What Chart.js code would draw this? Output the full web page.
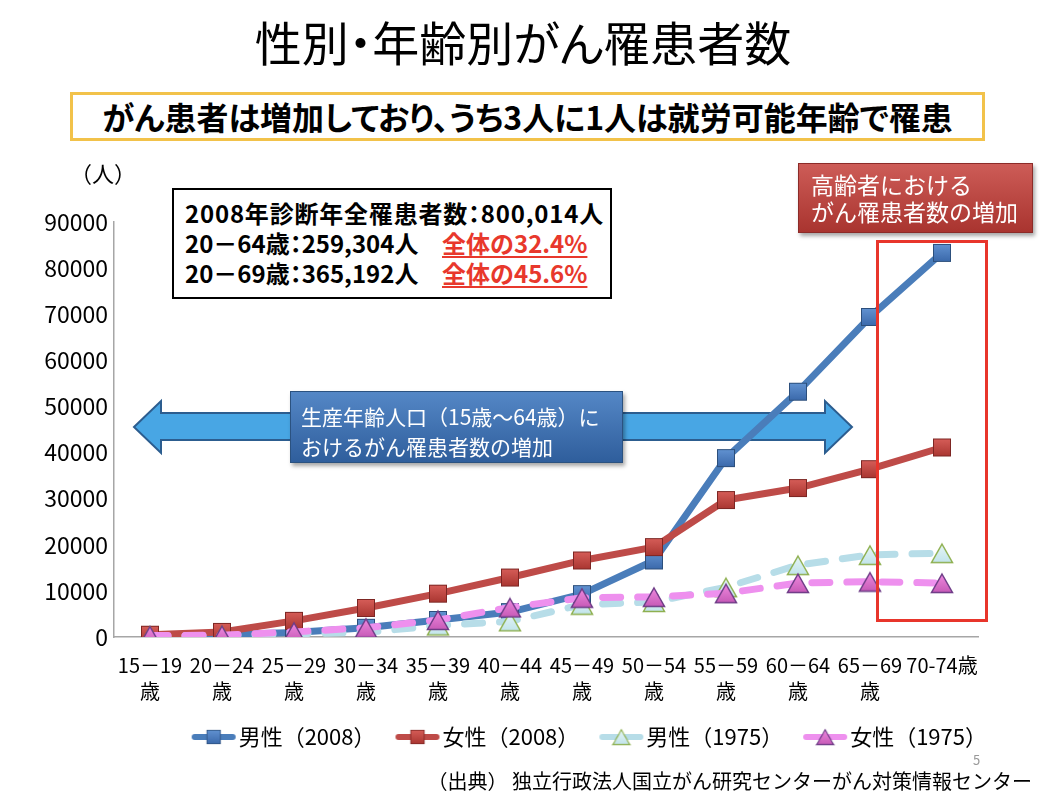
<!DOCTYPE html>
<html lang="ja">
<head>
<meta charset="utf-8">
<title>性別・年齢別がん罹患者数</title>
<script src="https://cdn.jsdelivr.net/npm/chart.js@4.4.1/dist/chart.umd.min.js"></script>
<style>
  html, body { margin: 0; padding: 0; background: #fff; }
  body { font-family: "Noto Sans CJK JP", "Noto Sans", sans-serif; color: #000; }
  #page { position: relative; width: 1046px; height: 800px; overflow: hidden; }
  #arrow { position: absolute; left: 0; top: 0; z-index: 0; }
  #chartBox { position: absolute; left: 0; top: 0; width: 1046px; height: 800px; z-index: 1; }
  .abs { position: absolute; z-index: 2; box-sizing: border-box; }
  #title { left: 0; top: 13px; width: 1046px; text-align: center; font-size: 47px; line-height: 56px;
    font-feature-settings: "palt"; }
  #subtitle { left: 70px; top: 92px; width: 915px; height: 49px; border: 3px solid #F2C24A;
    text-align: center; font-size: 32px; font-weight: bold; line-height: 42px;
    font-feature-settings: "palt"; background: #fff; white-space: nowrap; }
  #unit { left: 70px; top: 157px; font-size: 22px; line-height: 30px; }
  #info { left: 172px; top: 188px; width: 440px; height: 111px; border: 2px solid #000;
    padding: 8px 0 0 11px; font-size: 24px; font-weight: bold; line-height: 30px; background: #fff;
    white-space: nowrap; }
  #info .c { font-feature-settings: "palt"; }
  #info .l1 { letter-spacing: 0.8px; }
  #info .k { display: inline-block; width: 257px; }
  #info .r { color: #E8382C; text-decoration: underline; text-underline-offset: 3px; }
  #elder { left: 798px; top: 163px; width: 235px; height: 70px; padding: 7px 0 0 12px;
    font-size: 23px; line-height: 27px; color: #fff; white-space: nowrap;
    background: linear-gradient(#CD5C57, #A9342F); border: 1px solid #8C2B28;
    box-shadow: 2px 3px 4px rgba(0,0,0,0.35); }
  #redFrame { left: 876px; top: 240px; width: 112px; height: 382px; border: 3px solid #E8352B; }
  #worker { left: 290px; top: 391px; width: 333px; height: 72px; padding: 9px 0 0 10px;
    font-size: 21px; line-height: 30px; color: #fff; white-space: nowrap;
    background: linear-gradient(#5487C6, #2F5E9C); border: 1px solid #2B5280;
    box-shadow: 2px 3px 4px rgba(0,0,0,0.35); }
  #source { right: 14px; top: 767px; font-size: 20px; line-height: 28px; text-align: right;
    white-space: nowrap; }
  #pageNo { left: 973px; top: 752px; font-size: 13px; line-height: 16px; color: #999; }
</style>
</head>
<body>
<div id="page">
  <svg id="arrow" width="1046" height="800">
    <polygon points="134,427 161,401 161,413 825,413 825,401 852,427 825,453 825,440 161,440 161,453"
      fill="#48A6E4" stroke="#2C5D8F" stroke-width="2" stroke-linejoin="miter"/>
  </svg>
  <div id="chartBox"><canvas id="myChart" width="1046" height="800"></canvas></div>

  <div class="abs" id="title">性別・年齢別がん罹患者数</div>
  <div class="abs" id="subtitle">がん患者は増加しており、うち3人に1人は就労可能年齢で罹患</div>
  <div class="abs" id="unit">（人）</div>
  <div class="abs" id="info">
    <div class="l1">2008年診断年全罹患者数<span class="c">：</span>800,014人</div>
    <div><span class="k">20－64歳<span class="c">：</span>259,304人</span><span class="r">全体の32.4%</span></div>
    <div><span class="k">20－69歳<span class="c">：</span>365,192人</span><span class="r">全体の45.6%</span></div>
  </div>
  <div class="abs" id="elder">高齢者における<br>がん罹患者数の増加</div>
  <div class="abs" id="redFrame"></div>
  <div class="abs" id="worker">生産年齢人口（15歳～64歳）に<br>おけるがん罹患者数の増加</div>
  <div class="abs" id="pageNo">5</div>
  <div class="abs" id="source">（出典） 独立行政法人国立がん研究センターがん対策情報センター</div>
</div>

<script>
// данные
const xTickLabels = [
  ["15－19", "歳"], ["20－24", "歳"], ["25－29", "歳"], ["30－34", "歳"],
  ["35－39", "歳"], ["40－44", "歳"], ["45－49", "歳"], ["50－54", "歳"],
  ["55－59", "歳"], ["60－64", "歳"], ["65－69", "歳"], ["70-74歳"],
];
const seriesNames = ["男性（2008）", "女性（2008）", "男性（1975）", "女性（1975）"];
const male2008 = [200, 500, 1000, 2000, 3700, 5400, 9300, 16600, 38800, 53200, 69400, 83300];
const female2008 = [500, 1100, 3500, 6300, 9400, 12900, 16600, 19500, 29700, 32300, 36400, 41100];
const male1975 = [200, 300, 700, 1000, 2500, 3400, 7000, 7600, 10800, 15600, 17800, 18200];
const female1975 = [300, 400, 1100, 2000, 3700, 6400, 8500, 8700, 9500, 11700, 12000, 11700];
const yMax = 90000;
const yStep = 10000;

// маркеры
function makeSquare(c1, c2, stroke) {
  const c = document.createElement("canvas");
  c.width = 20; c.height = 20;
  const g = c.getContext("2d");
  const grad = g.createLinearGradient(0, 0, 0, 20);
  grad.addColorStop(0, c1);
  grad.addColorStop(1, c2);
  g.fillStyle = grad;
  g.fillRect(1, 1, 18, 18);
  g.strokeStyle = stroke;
  g.lineWidth = 1;
  g.strokeRect(1.5, 1.5, 17, 17);
  return c;
}
function makeTriangle(c1, c2, stroke) {
  const c = document.createElement("canvas");
  c.width = 24; c.height = 22;
  const g = c.getContext("2d");
  const grad = g.createLinearGradient(0, 0, 0, 22);
  grad.addColorStop(0, c1);
  grad.addColorStop(1, c2);
  g.beginPath();
  g.moveTo(12, 2);
  g.lineTo(22.5, 20.5);
  g.lineTo(1.5, 20.5);
  g.closePath();
  g.fillStyle = grad;
  g.fill();
  g.strokeStyle = stroke;
  g.lineWidth = 1.5;
  g.stroke();
  return c;
}
// иконка легенды: линия + маркер
function makeLegendIcon(lineColor, marker) {
  const c = document.createElement("canvas");
  c.width = 46; c.height = 22;
  const g = c.getContext("2d");
  g.strokeStyle = lineColor;
  g.lineWidth = 6;
  g.lineCap = "round";
  g.beginPath();
  g.moveTo(4, 11);
  g.lineTo(42, 11);
  g.stroke();
  const s = 0.8;
  g.drawImage(marker, 23 - marker.width * s / 2, 11 - marker.height * s / 2, marker.width * s, marker.height * s);
  return c;
}

const colors = ["#4A7DBA", "#BE4B48", "#B7DDE8", "#EE90EE"];
const markers = [
  makeSquare("#6495D4", "#3866A8", "#2C4F7C"),
  makeSquare("#D9605B", "#A6332E", "#7D2623"),
  makeTriangle("#EAF7F8", "#BFE3EA", "#8EB050"),
  makeTriangle("#F28EE2", "#C457B4", "#6E3C87"),
];
const legendIcons = colors.map((col, i) => makeLegendIcon(col, markers[i]));

const ctx = document.getElementById("myChart").getContext("2d");

function dataset(i, values, dashed, order) {
  return {
    label: seriesNames[i],
    data: values,
    borderColor: colors[i],
    backgroundColor: colors[i],
    borderWidth: 7,
    borderDash: dashed ? [18, 17] : [],
    borderCapStyle: dashed ? "round" : "butt",
    borderJoinStyle: "round",
    pointStyle: markers[i],
    pointRadius: 10,
    pointHoverRadius: 10,
    tension: 0,
    order: order,
  };
}

// сдвиг легенды (вправо и вверх)
const legendShift = {
  id: "legendShift",
  afterLayout(chart) {
    chart.legend.left += 37;
    chart.legend.right += 37;
    chart.legend.top -= 18;
    chart.legend.bottom -= 18;
  },
};

new Chart(ctx, {
  type: "line",
  data: {
    labels: xTickLabels,
    datasets: [
      dataset(0, male2008, false, 4),
      dataset(1, female2008, false, 3),
      dataset(2, male1975, true, 2),
      dataset(3, female1975, true, 1),
    ],
  },
  plugins: [legendShift],
  options: {
    responsive: false,
    animation: false,
    events: [],
    layout: {
      padding: { top: 222, left: 40, right: 68, bottom: 24 },
    },
    plugins: {
      tooltip: { enabled: false },
      legend: {
        position: "bottom",
        align: "end",
        labels: {
          usePointStyle: true,
          pointStyleWidth: 28,
          boxHeight: 22,
          padding: 28,
          color: "#000",
          font: { size: 22, family: '"Noto Sans CJK JP", sans-serif' },
          sort: (a, b) => a.datasetIndex - b.datasetIndex,
          generateLabels(chart) {
            const items = Chart.defaults.plugins.legend.labels.generateLabels(chart);
            items.forEach((it) => {
              it.pointStyle = legendIcons[it.datasetIndex];
            });
            return items;
          },
        },
      },
    },
    scales: {
      x: {
        offset: true,
        grid: { display: false },
        border: { display: true, color: "#A6A6A6", width: 1.5 },
        ticks: {
          autoSkip: false,
          maxRotation: 0,
          padding: 7,
          color: "#000",
          font: { size: 20, lineHeight: 1.3, family: '"Noto Sans CJK JP", sans-serif' },
        },
        afterFit(scale) {
          scale.height = 79;
        },
      },
      y: {
        min: 0,
        max: yMax,
        grid: { display: false, drawTicks: false },
        border: { display: true, color: "#A6A6A6", width: 1.5 },
        ticks: {
          stepSize: yStep,
          padding: 6,
          color: "#000",
          font: { size: 23, family: '"Noto Sans CJK JP", sans-serif' },
          callback: (v) => String(v),
        },
        afterFit(scale) {
          scale.width = 74;
        },
      },
    },
  },
});
</script>
</body>
</html>
